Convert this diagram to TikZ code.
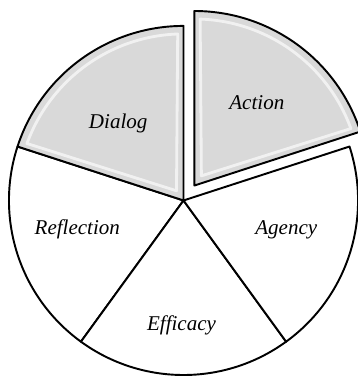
\documentclass[tikz,border=0pt]{standalone}
\usepackage{fontspec}
\setmainfont{Liberation Serif}
\begin{document}
\begin{tikzpicture}[slice/.style={draw=black,line width=1.1pt,line join=round},
    shaded/.style={fill=black!15},
    bevel/.style={draw=white,line width=1.6pt,opacity=.65,line join=round},
    lbl/.style={font=\fontsize{12}{14}\selectfont\itshape,anchor=base}]
    \useasboundingbox (-3.68,-3.52) rectangle (3.48,4.02);

    % plain slices
    \foreach \a in {162,234,306}
      \draw[slice,fill=white] (0,0) -- (\a:3.5) arc[start angle=\a,end angle=\a+72,radius=3.5] -- cycle;

    % dialog slice
    \draw[slice,shaded] (0,0) -- (90:3.5) arc[start angle=90,end angle=162,radius=3.5] -- cycle;
    \draw[bevel] (126:0.24) -- (92:3.34) arc[start angle=92,end angle=160,radius=3.34] -- cycle;

    % action slice, pulled out
    \begin{scope}[shift={(54:0.37)}]
      \draw[slice,shaded] (0,0) -- (18:3.5) arc[start angle=18,end angle=90,radius=3.5] -- cycle;
      \draw[bevel] (54:0.24) -- (20:3.34) arc[start angle=20,end angle=88,radius=3.34] -- cycle;
    \end{scope}

    \node[lbl] (dialog) at (-1.31,1.45) {Dialog};
    \node[lbl] (action) at (1.47,1.82) {Action};
    \node[lbl] (agency) at (2.06,-0.68) {Agency};
    \node[lbl] (reflection) at (-2.13,-0.68) {Reflection};
    \node[lbl] (efficacy) at (-0.04,-2.61) {Efficacy};
  \end{tikzpicture}
\end{document}
